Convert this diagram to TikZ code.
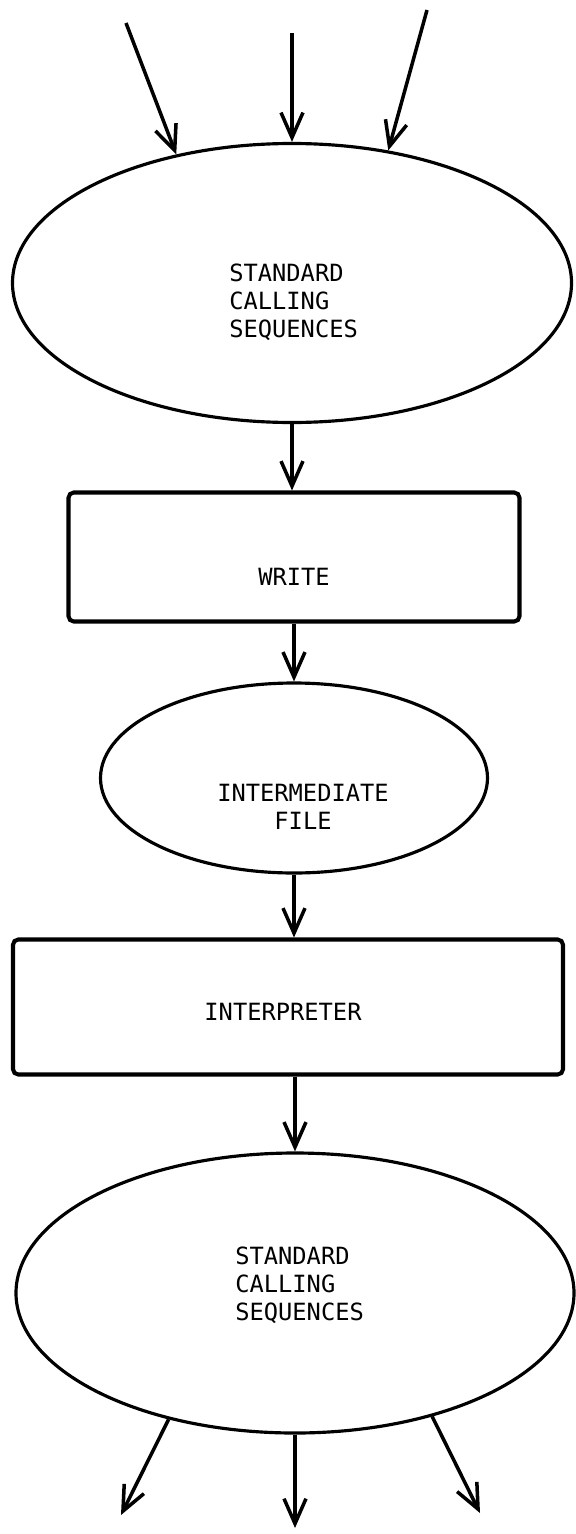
\documentclass[tikz,border=0pt]{standalone}
\usepackage{fontspec}
\newfontfamily\plotfont{DejaVu Sans Mono}
\usetikzlibrary{shapes,arrows.meta}
\tikzstyle{oval}=[ellipse,draw,line width=1.8pt,inner sep=0pt]
\tikzstyle{box}=[rectangle,draw,line width=2.3pt,rounded corners=3pt,inner sep=0pt]
\tikzstyle{edge} = [draw,line width=2pt,-{Straight Barb[length=5mm,width=4.4mm]}]
\tikzstyle{txt} = [font=\plotfont\fontsize{13.5}{15.9}\selectfont,inner sep=0pt,align=left]

\begin{document}
\begin{tikzpicture}[x=0.02cm,y=-0.02cm]

    \useasboundingbox (0,0) rectangle (575,1534);

    % ovals
    \foreach \pos/\name/\w/\h in {{(292,283)/std1/559/279}, {(294,778)/inter/387/190}, {(295,1293)/std3/558/280}}
        \node[oval,minimum width=\w*0.02cm,minimum height=\h*0.02cm] (\name) at \pos {};
    % boxes
    \foreach \pos/\name/\w/\h in {{(294,557)/write/451/129}, {(288,1007)/interp/550/135}}
        \node[box,minimum width=\w*0.02cm,minimum height=\h*0.02cm] (\name) at \pos {};

    % Label
    \node[txt,anchor=west] (std1txt) at (229,302) {STANDARD\\CALLING\\SEQUENCES};
    \node[txt] (writetxt) at (294,577) {WRITE};
    \node[txt,align=center] (intertxt) at (303,807) {INTERMEDIATE\\FILE};
    \node[txt] (interptxt) at (283,1012) {INTERPRETER};
    \node[txt,anchor=west] (std3txt) at (235,1285) {STANDARD\\CALLING\\SEQUENCES};

    % loose ends
    \foreach \pos/\name in {{(126,23)/in1}, {(292,33)/in2}, {(427,10)/in3}, {(121,1515)/out1}, {(295,1528)/out2}, {(480,1513)/out3}}
        \path \pos coordinate (\name);

    % Edges
    \foreach \source/ \dest in {in1/std1.132, in2/std1.north, in3/std1.54}
        \path[edge] (\source) -- (\dest);
    % main chain, kept upright on the oval of each pair
    \foreach \source/ \dest/ \via in {std1/write/std1, write/inter/inter, inter/interp/inter, interp/std3/std3}
        \path[edge] (\via |- \source.south) -- (\via |- \dest.north);
    \foreach \source/ \dest in {std3.225/out1, std3.south/out2, std3.318/out3}
        \path[edge] (\source) -- (\dest);

\end{tikzpicture}
\end{document}
